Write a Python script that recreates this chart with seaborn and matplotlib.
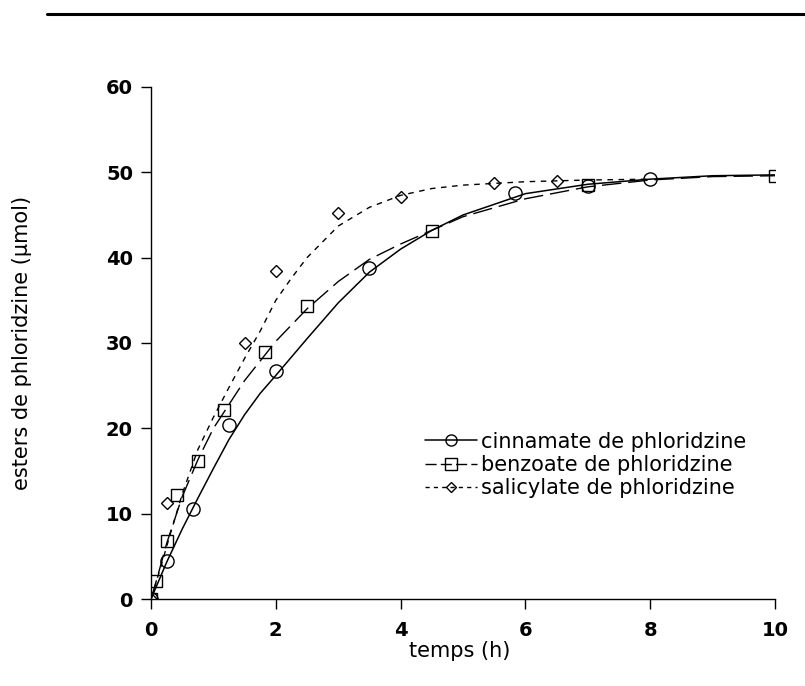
import seaborn as sns
import matplotlib.pyplot as plt
from matplotlib.lines import Line2D

# Measured points
t_cin = [0, 0.25, 0.67, 1.25, 2.0, 3.5, 5.83, 7.0, 8.0]
y_cin = [0, 4.5, 10.5, 20.4, 26.7, 38.8, 47.6, 48.4, 49.2]

t_ben = [0, 0.083, 0.25, 0.42, 0.75, 1.17, 1.83, 2.5, 4.5, 7.0, 10.0]
y_ben = [0, 2.1, 6.8, 12.2, 16.2, 22.2, 28.9, 34.3, 43.1, 48.5, 49.6]

t_sal = [0, 0.25, 1.5, 2.0, 3.0, 4.0, 5.5, 6.5]
y_sal = [0, 11.2, 30.0, 38.4, 45.2, 47.1, 48.7, 49.0]

# Fitted curves
tc_cin = [0, 0.25, 0.5, 0.75, 1.0, 1.25, 1.5, 1.75, 2.0, 2.5, 3.0, 3.5, 4.0, 4.5, 5.0, 6.0, 7.0, 8.0, 9.0, 10.0]
yc_cin = [0, 4.3, 8.2, 11.8, 15.3, 18.7, 21.6, 24.1, 26.2, 30.5, 34.7, 38.3, 41.0, 43.2, 45.0, 47.5, 48.6, 49.2, 49.6, 49.7]

tc_ben = [0, 0.1, 0.25, 0.5, 0.75, 1.0, 1.5, 2.0, 2.5, 3.0, 3.5, 4.0, 4.5, 5.0, 6.0, 7.0, 8.0, 9.0, 10.0]
yc_ben = [0, 2.5, 6.5, 12.0, 16.3, 20.0, 25.6, 30.2, 34.0, 37.2, 39.8, 41.6, 43.2, 44.8, 46.9, 48.3, 49.1, 49.5, 49.6]

tc_sal = [0, 0.15, 0.3, 0.5, 0.75, 1.0, 1.25, 1.5, 1.75, 2.0, 2.25, 2.5, 3.0, 3.5, 4.0, 4.5, 5.0, 6.0, 7.0, 8.0]
yc_sal = [0, 3.6, 7.4, 12.3, 17.5, 21.3, 24.8, 28.2, 31.4, 35.0, 37.6, 40.0, 43.7, 45.9, 47.3, 48.1, 48.5, 48.9, 49.1, 49.2]

labels = ["cinnamate de phloridzine", "benzoate de phloridzine", "salicylate de phloridzine"]

sns.set_style("ticks")
plt.rcParams['font.family'] = ['DejaVu Sans']
plt.rcParams['text.color'] = 'black'
plt.rcParams['axes.labelcolor'] = 'black'
plt.rcParams['xtick.color'] = 'black'
plt.rcParams['ytick.color'] = 'black'

fig = plt.figure(figsize=(8.05, 6.86), dpi=100)
ax = fig.add_axes([0.1876, 0.1268, 0.7751, 0.7464])

# curves
sns.lineplot(x=tc_cin, y=yc_cin, ax=ax, color='black', lw=1.1)
sns.lineplot(x=tc_ben, y=yc_ben, ax=ax, color='black', lw=1.0, linestyle=(0, (14, 5)))
sns.lineplot(x=tc_sal, y=yc_sal, ax=ax, color='black', lw=1.0, linestyle=(0, (4, 4)))

# points
sns.lineplot(x=t_cin, y=y_cin, ax=ax, color='black', linestyle='none', marker='o',
             ms=9.5, mfc='none', mec='black', mew=1.0)
sns.lineplot(x=t_ben, y=y_ben, ax=ax, color='black', linestyle='none', marker='s',
             ms=9, mfc='none', mec='black', mew=1.0)
sns.lineplot(x=t_sal, y=y_sal, ax=ax, color='black', linestyle='none', marker='D',
             ms=6.5, mfc='none', mec='black', mew=1.0)

ax.set_xlim(0, 10)
ax.set_ylim(0, 60)
ax.set_xticks(range(0, 11, 2))
ax.set_yticks(range(0, 61, 10))
ax.tick_params(direction='out', length=7, width=1, labelsize=14, color='black', labelcolor='black')
ax.tick_params(axis='x', pad=9)
ax.tick_params(axis='y', pad=6)
for lbl in ax.get_xticklabels() + ax.get_yticklabels():
    lbl.set_fontweight('bold')
for s in ['left', 'bottom']:
    ax.spines[s].set_color('black')
    ax.spines[s].set_linewidth(1.0)
sns.despine(ax=ax)

ax.set_xlabel("temps (h)", fontsize=15, color='black')
ax.set_ylabel("esters de phloridzine (µmol)", fontsize=15, color='black')
ax.xaxis.set_label_coords(0.495, -0.082)
ax.yaxis.set_label_coords(-0.19, 0.5)

handles = [
    Line2D([], [], color='black', lw=1.1, marker='o', ms=8, mfc='none', mec='black'),
    Line2D([], [], color='black', lw=1.0, linestyle=(0, (8, 3)), marker='s', ms=8, mfc='none', mec='black'),
    Line2D([], [], color='black', lw=1.0, linestyle=(0, (3, 3)), marker='D', ms=5.5, mfc='none', mec='black'),
]
leg = ax.legend(handles, labels, loc='center left', bbox_to_anchor=(0.439, 0.262), frameon=False,
                fontsize=15, handlelength=2.5, handletextpad=0.2, labelspacing=0.15,
                borderpad=0, borderaxespad=0)
for txt in leg.get_texts():
    txt.set_color('black')

# page rule at the top
fig.add_artist(Line2D([47 / 805, 1.0], [1 - 14 / 686, 1 - 14 / 686], color='black', lw=2.2))

fig.savefig("out.png", dpi=100)
